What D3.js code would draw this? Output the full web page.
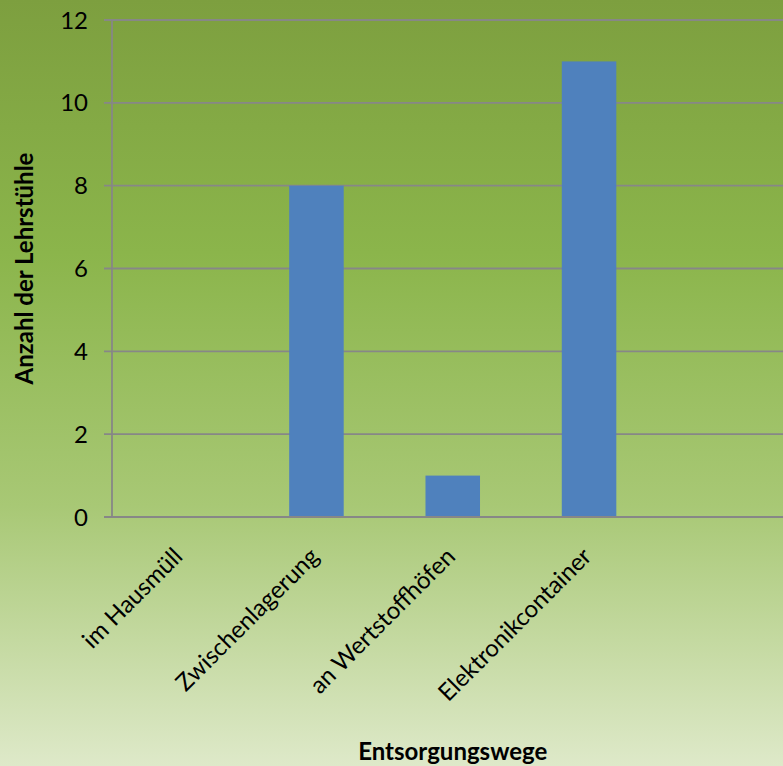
<!DOCTYPE html>
<html>
<head>
<meta charset="utf-8">
<script src="https://cdn.jsdelivr.net/npm/d3@7"></script>
<style>
  html, body { margin: 0; padding: 0; }
  svg { display: block; }
  text { font-family: Lato, "Noto Sans", sans-serif; fill: #000; }
</style>
</head>
<body>
<svg id="chart" width="783" height="766"></svg>
<script>
const categories = ["im Hausmüll", "Zwischenlagerung", "an Wertstoffhöfen", "Elektronikcontainer"];
const values = [0, 8, 1, 11];
const yTicks = [0, 2, 4, 6, 8, 10, 12];
const xTitle = "Entsorgungswege";
const yTitle = "Anzahl der Lehrstühle";

const W = 783, H = 766;
const plot = { left: 112, top: 20, bottom: 517, right: 793.5 };
const svg = d3.select("#chart");

const defs = svg.append("defs");
const grad = defs.append("linearGradient").attr("id", "bg")
  .attr("x1", 0).attr("y1", 0).attr("x2", 0).attr("y2", 1);
[[0, "#7d9f3f"], [0.33, "#8bb54b"], [0.66, "#a8c875"], [1, "#dee9c9"]]
  .forEach(([o, c]) => grad.append("stop").attr("offset", o).attr("stop-color", c));
svg.append("rect").attr("width", W).attr("height", H).attr("fill", "url(#bg)");

// category band: 5 slots wide plot area; 4 categories
const step = (plot.right - plot.left) / 5;
const x = d3.scaleBand()
  .domain(categories)
  .range([plot.left, plot.left + step * 4])
  .paddingInner(0.6)
  .paddingOuter(0.3);

const y = d3.scaleLinear().domain([0, 12]).range([plot.bottom, plot.top]);

// gridlines
svg.append("g").selectAll("line").data(yTicks).join("line")
  .attr("x1", plot.left - 8).attr("x2", W)
  .attr("y1", d => y(d)).attr("y2", d => y(d))
  .attr("stroke", "#878787").attr("stroke-width", 1.8);

// bars
svg.append("g").selectAll("rect").data(values).join("rect")
  .attr("x", (d, i) => x(categories[i]))
  .attr("width", x.bandwidth())
  .attr("y", d => y(d))
  .attr("height", d => y(0) - y(d))
  .attr("fill", "#4f81bd");

// baseline over bars
svg.append("line")
  .attr("x1", plot.left - 8).attr("x2", W)
  .attr("y1", y(0)).attr("y2", y(0))
  .attr("stroke", "#878787").attr("stroke-width", 1.8);

// y axis line
svg.append("line")
  .attr("x1", plot.left).attr("x2", plot.left)
  .attr("y1", y(12)).attr("y2", y(0))
  .attr("stroke", "#878787").attr("stroke-width", 1.8);

// y tick labels
svg.append("g").selectAll("text").data(yTicks).join("text")
  .attr("x", 88).attr("y", d => y(d))
  .attr("dy", "0.36em")
  .attr("text-anchor", "end")
  .attr("font-size", 24)
  .text(d => d);

// x category labels
svg.append("g").selectAll("text").data(categories).join("text")
  .attr("text-anchor", "end")
  .attr("font-size", 24)
  .attr("dy", "0.35em")
  .attr("transform", d => `translate(${x(d) + x.bandwidth() / 2 - 2},${y(0) + 35}) rotate(-45)`)
  .text(d => d);

// axis titles
svg.append("text")
  .attr("x", (plot.left + plot.right) / 2).attr("y", 760)
  .attr("text-anchor", "middle")
  .attr("font-size", 24).attr("font-weight", "bold")
  .text(xTitle);

svg.append("text")
  .attr("transform", `translate(33,${(plot.top + plot.bottom) / 2}) rotate(-90)`)
  .attr("text-anchor", "middle")
  .attr("font-size", 24).attr("font-weight", "bold")
  .text(yTitle);
</script>
</body>
</html>
